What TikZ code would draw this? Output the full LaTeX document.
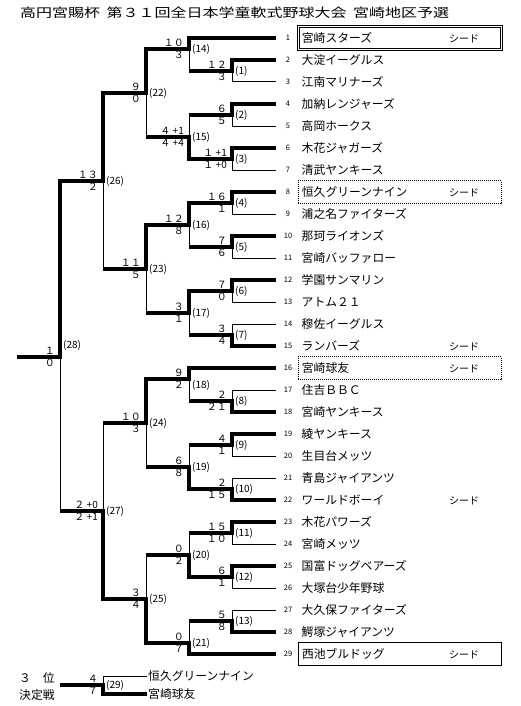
\documentclass[tikz,border=0pt]{standalone}
\usepackage{fontspec}
\setmainfont{Noto Sans CJK JP}
\usetikzlibrary{calc}
\newcommand{\tnfont}{\fontsize{11.8pt}{13pt}\selectfont}
\newcommand{\scfont}{\fontsize{10pt}{11pt}\selectfont}
\newcommand{\lbfont}{\fontsize{10pt}{11pt}\selectfont}
\newcommand{\nofont}{\fontsize{7.5pt}{8pt}\selectfont}
\begin{document}
\begin{tikzpicture}[x=1pt,y=-1pt,
  vthick/.style={line width=3.3pt,line cap=rect},
  hthick/.style={line width=3.3pt},
  thin/.style={line width=1pt},
  score/.style={inner sep=0pt,font=\scfont},
  lab/.style={inner sep=0pt,anchor=west,font=\lbfont},
  tno/.style={inner sep=0pt,font=\nofont},
  tname/.style={anchor=west,minimum width=203pt,minimum height=23pt,inner xsep=3.5pt,inner ysep=0pt,text width=196pt,align=left,font=\tnfont},
  seed/.style={anchor=west,inner sep=0pt,font=\fontsize{10pt}{11pt}\selectfont},
  plain/.style={anchor=west,inner sep=0pt,font=\tnfont},
  dotbox/.style={draw,line width=0.8pt,dash pattern=on 1pt off 1pt},
  solidbox/.style={draw,line width=1pt},
  dblbox/.style={draw,double,double distance=1.6pt,line width=0.8pt}]
\useasboundingbox (0,0) rectangle (521,706);

% title
\node[anchor=west,inner sep=0pt] (title) at (20,13)
  {\scalebox{1.28}[1]{\fontsize{12.5pt}{14pt}\selectfont 高円宮賜杯\hspace{5pt}第３１回全日本学童軟式野球大会\hspace{5pt}宮崎地区予選}};

% team line ends
\foreach \i in {1,...,29} \coordinate (t\i) at (276,{38+22*(\i-1)});

% match junctions
\coordinate (m1) at (232,71);  \coordinate (m2) at (232,115); \coordinate (m3) at (232,159);
\coordinate (m4) at (232,203); \coordinate (m5) at (232,247); \coordinate (m6) at (232,291);
\coordinate (m7) at (232,335); \coordinate (m8) at (232,401); \coordinate (m9) at (232,445);
\coordinate (m10) at (232,489); \coordinate (m11) at (232,533); \coordinate (m12) at (232,577);
\coordinate (m13) at (232,621);
\coordinate (m14) at (189,49);  \coordinate (m15) at (189,137); \coordinate (m16) at (189,225);
\coordinate (m17) at (189,313); \coordinate (m18) at (189,379); \coordinate (m19) at (189,467);
\coordinate (m20) at (189,555); \coordinate (m21) at (189,643);
\coordinate (m22) at (146,93);  \coordinate (m23) at (146,269); \coordinate (m24) at (146,423);
\coordinate (m25) at (146,599);
\coordinate (m26) at (103,181); \coordinate (m27) at (103,511);
\coordinate (m28) at (60,357);
\coordinate (out) at (17,357);

% entry lines
\foreach \t/\m/\s in {1/m14/hthick,2/m1/hthick,3/m1/thin,4/m2/hthick,5/m2/thin,6/m3/hthick,7/m3/thin,
  8/m4/hthick,9/m4/thin,10/m5/hthick,11/m5/thin,12/m6/hthick,13/m6/thin,14/m7/thin,15/m7/hthick,
  16/m18/hthick,17/m8/thin,18/m8/hthick,19/m9/hthick,20/m9/thin,21/m10/thin,22/m10/hthick,
  23/m11/hthick,24/m11/thin,25/m12/hthick,26/m12/thin,27/m13/thin,28/m13/hthick,29/m21/hthick}
  \draw[\s] (t\t) -- (\m |- t\t);

% matches
\foreach \id/\up/\lo/\nx/\us/\ls/\a/\b in {
  1/t2/t3/m14/vthick/thin/１２/３,
  2/t4/t5/m15/vthick/thin/６/５,
  3/t6/t7/m15/vthick/thin/１ +1/１ +0,
  4/t8/t9/m16/vthick/thin/１６/１,
  5/t10/t11/m16/vthick/thin/７/６,
  6/t12/t13/m17/vthick/thin/７/０,
  7/t14/t15/m17/thin/vthick/３/４,
  8/t17/t18/m18/thin/vthick/２/２１,
  9/t19/t20/m19/vthick/thin/４/１,
  10/t21/t22/m19/thin/vthick/２/１５,
  11/t23/t24/m20/vthick/thin/１５/１０,
  12/t25/t26/m20/vthick/thin/６/１,
  13/t27/t28/m21/thin/vthick/５/８,
  14/t1/m1/m22/vthick/thin/１０/３,
  15/m2/m3/m22/thin/vthick/４ +1/４ +4,
  16/m4/m5/m23/vthick/thin/１２/８,
  17/m6/m7/m23/vthick/thin/３/１,
  18/t16/m8/m24/vthick/thin/９/２,
  19/m9/m10/m24/thin/vthick/６/８,
  20/m11/m12/m25/thin/vthick/０/２,
  21/m13/t29/m25/thin/vthick/０/７,
  22/m14/m15/m26/vthick/thin/９/０,
  23/m16/m17/m26/vthick/thin/１１/５,
  24/m18/m19/m27/vthick/thin/１０/３,
  25/m20/m21/m27/thin/vthick/３/４,
  26/m22/m23/m28/vthick/thin/１３/２,
  27/m24/m25/m28/thin/vthick/２ +0/２ +1,
  28/m26/m27/out/vthick/thin/１/０}
{
  \draw[\ls] (m\id) -- (m\id |- \lo);
  \draw[\us] (m\id |- \up) -- (m\id);
  \draw[hthick] (m\id) -- (\nx |- m\id);
  \node[score,anchor=south east] (su\id) at ([xshift=-5pt,yshift=2pt]m\id) {\a};
  \node[score,anchor=north east] (sl\id) at ([xshift=-5pt,yshift=-2pt]m\id) {\b};
}

% match numbers
\foreach \id/\dy in {1/0,2/0,3/0,4/0,5/0,6/0,7/0,8/0,9/0,10/0,11/0,12/0,13/0,14/0,15/0,16/0,17/0,
  18/6,19/0,20/0,21/0,22/0,23/0,24/0,25/0,26/0,27/0,28/-12}
  \node[lab] (l\id) at ([xshift=3pt,yshift=-\dy pt]m\id) {(\id)};

% team numbers
\foreach \i in {1,...,29}
  \node[tno] (no\i) at ([xshift=12pt]t\i) {\i};

% team names
\foreach \i/\nm/\bx in {1/宮崎スターズ/dblbox,2/大淀イーグルス/,3/江南マリナーズ/,4/加納レンジャーズ/,5/高岡ホークス/,
  6/木花ジャガーズ/,7/清武ヤンキース/,8/恒久グリーンナイン/dotbox,9/浦之名ファイターズ/,10/那珂ライオンズ/,
  11/宮崎バッファロー/,12/学園サンマリン/,13/アトム２１/,14/穆佐イーグルス/,15/ランバーズ/,16/宮崎球友/dotbox,
  17/住吉ＢＢＣ/,18/宮崎ヤンキース/,19/綾ヤンキース/,20/生目台メッツ/,21/青島ジャイアンツ/,
  22/ワールドボーイ/,23/木花パワーズ/,24/宮崎メッツ/,25/国富ドッグベアーズ/,26/大塚台少年野球/,
  27/大久保ファイターズ/,28/鰐塚ジャイアンツ/,29/西池ブルドッグ/solidbox}
{
  \node[tname,\bx] (name\i) at ([xshift=22pt]t\i) {\raisebox{-1pt}{\nm}};
}
\foreach \i in {1,8,15,16,22,29}
  \node[seed] (seed\i) at ([xshift=173pt,yshift=-1pt]t\i) {シード};

% third place play-off
\coordinate (c3) at (60,685);
\coordinate (m29) at (103,685);
\coordinate (u29) at (147,676);
\coordinate (d29) at (147,694);
\draw[thin] (m29 |- u29) -- (m29);
\draw[thin] (m29 |- u29) -- (u29);
\draw[vthick] (m29) -- (m29 |- d29);
\draw[hthick] (c3) -- (m29);
\draw[hthick] (m29 |- d29) -- (d29);
\node[score,anchor=south east] (su29) at ([xshift=-5pt,yshift=2pt]m29) {４};
\node[score,anchor=north east] (sl29) at ([xshift=-5pt,yshift=-2pt]m29) {７};
\node[lab] (l29) at ([xshift=3pt]m29) {(29)};
\node[plain] (tp1) at ([xshift=1pt]u29) {恒久グリーンナイン};
\node[plain] (tp2) at ([xshift=1pt]d29) {宮崎球友};
\node[plain] (third1) at (19,678) {３　位};
\node[plain] (third2) at (19,695) {決定戦};
\end{tikzpicture}
\end{document}
